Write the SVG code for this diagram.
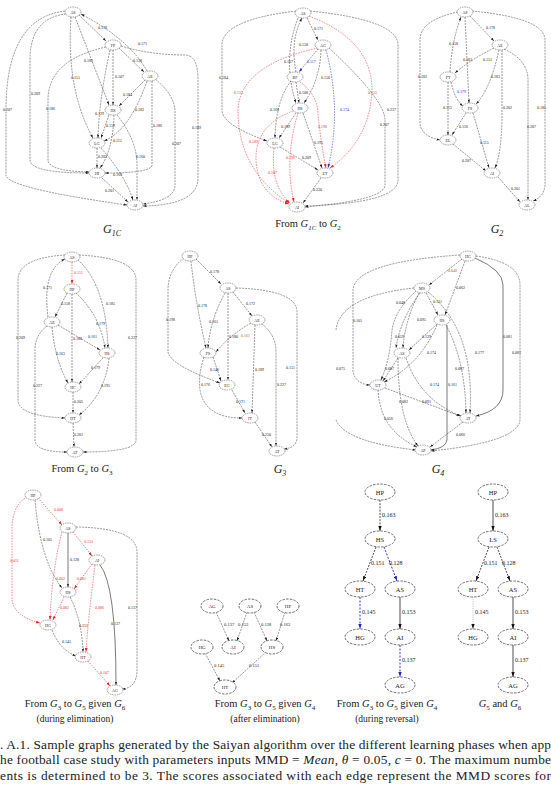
<svg xmlns="http://www.w3.org/2000/svg" width="551" height="799" viewBox="0 0 551 799">
<style>
text{font-family:"Liberation Serif","DejaVu Serif",serif;fill:#222}
.n ellipse{fill:#fff;stroke:#444;stroke-width:0.5;stroke-dasharray:1.5 0.8}
.n text{font-size:4px;text-anchor:middle;dominant-baseline:central}
.N ellipse{fill:#fff;stroke:#333;stroke-width:0.7;stroke-dasharray:2.5 1.2}
.N text{font-size:6.5px;text-anchor:middle;dominant-baseline:central}
.e{fill:none;stroke:#333;stroke-width:0.5;stroke-dasharray:2 1;marker-end:url(#a)}
.s{fill:none;stroke:#222;stroke-width:0.6;marker-end:url(#a)}
.r{fill:none;stroke:#e33;stroke-width:0.6;stroke-dasharray:1.5 1.2;marker-end:url(#ar)}
.b{fill:none;stroke:#23c;stroke-width:0.6;stroke-dasharray:1.5 1.2;marker-end:url(#ab)}
.E{fill:none;stroke:#222;stroke-width:0.8;marker-end:url(#A)}
.ED{fill:none;stroke:#222;stroke-width:0.8;stroke-dasharray:2 1.2;marker-end:url(#A)}
.EB{fill:none;stroke:#22c;stroke-width:0.9;stroke-dasharray:2 1.5;marker-end:url(#AB)}
.EG{fill:none;stroke:#999;stroke-width:0.7;stroke-dasharray:1 1.2;marker-end:url(#A)}
.l{font-size:4px}
.lr{font-size:4px;fill:#e33}
.lb{font-size:4px;fill:#23c}
.L{font-size:6px}
.t{font-size:10.5px;text-anchor:middle}
.ts{font-size:9.5px;text-anchor:middle}
.g{font-style:italic}
.cap{font-size:13.4px}
</style>
<defs>
<marker id="a" viewBox="0 0 6 4" refX="6" refY="2" markerWidth="3.5" markerHeight="2.6" orient="auto" markerUnits="userSpaceOnUse"><path d="M0,0L6,2L0,4z" fill="#222"/></marker>
<marker id="ar" viewBox="0 0 6 4" refX="6" refY="2" markerWidth="4" markerHeight="3" orient="auto" markerUnits="userSpaceOnUse"><path d="M0,0L6,2L0,4z" fill="#e22"/></marker>
<marker id="ab" viewBox="0 0 6 4" refX="6" refY="2" markerWidth="4" markerHeight="3" orient="auto" markerUnits="userSpaceOnUse"><path d="M0,0L6,2L0,4z" fill="#23c"/></marker>
<marker id="A" viewBox="0 0 6 4" refX="6" refY="2" markerWidth="5" markerHeight="4" orient="auto" markerUnits="userSpaceOnUse"><path d="M0,0L6,2L0,4z" fill="#111"/></marker>
<marker id="AB" viewBox="0 0 6 4" refX="6" refY="2" markerWidth="5" markerHeight="4" orient="auto" markerUnits="userSpaceOnUse"><path d="M0,0L6,2L0,4z" fill="#22c"/></marker>
</defs>

<!-- ============ Panel 1: G1C ============ -->
<g id="edges-p1">
<path class="e" d="M79,15L106,41"/><text class="l" x="98" y="29">0.178</text>
<path class="e" d="M147,71Q130,40 81,14"/><text class="l" x="138" y="45">0.171</text>
<path class="e" d="M75,17L109,105"/><text class="l" x="84" y="62">0.183</text>
<path class="e" d="M71,17Q66,90 93,138"/><text class="l" x="71" y="79">0.151</text>
<path class="e" d="M66,14Q30,18 30,60L30,160Q30,173 89,173"/><text class="l" x="31" y="95">0.209</text>
<path class="e" d="M65,11Q6,18 6,110L6,175Q6,188 127,205"/><text class="l" x="3" y="111">0.207</text>
<path class="e" d="M119,48L144,72"/><text class="l" x="133" y="62">0.158</text>
<path class="e" d="M113,50L113,105"/><text class="l" x="115" y="78">0.107</text>
<path class="e" d="M106,47Q48,60 48,100L48,160Q48,171 89,172"/><text class="l" x="46" y="110">0.186</text>
<path class="e" d="M110,50Q99,100 98,138"/><text class="l" x="95" y="115">0.129</text>
<path class="e" d="M121,46Q150,55 185,55Q198,55 198,80L198,178Q198,205 143,206"/><text class="l" x="192" y="129">0.189</text>
<path class="e" d="M145,80L119,106"/><text class="l" x="123" y="96">0.184</text>
<path class="e" d="M147,81Q130,130 104,141"/><text class="l" x="135" y="111">0.182</text>
<path class="e" d="M152,81L152,165Q152,173 105,173"/><text class="l" x="153" y="127">0.186</text>
<path class="e" d="M155,79Q175,95 175,112L175,185Q175,200 143,204"/><text class="l" x="172" y="145">0.207</text>
<path class="e" d="M109,115L101,138"/><text class="l" x="106" y="127">0.159</text>
<path class="e" d="M114,115Q113,150 100,168"/><text class="l" x="113" y="142">0.115</text>
<path class="e" d="M117,115Q137,140 137,165L137,200"/><text class="l" x="136" y="158">0.160</text>
<path class="e" d="M97,148L97,168"/><text class="l" x="98" y="158">0.205</text>
<path class="e" d="M101,148Q125,175 133,200"/><text class="l" x="113" y="176">0.169</text>
<path class="e" d="M102,178L128,202"/><text class="l" x="105" y="192">0.201</text>
</g>
<g id="p1-AS" class="n"><ellipse cx="73" cy="12" rx="8" ry="5"/><text x="73" y="12">AS</text></g>
<g id="p1-FP" class="n"><ellipse cx="113" cy="45" rx="8" ry="5"/><text x="113" y="45">FP</text></g>
<g id="p1-AE" class="n"><ellipse cx="150" cy="76" rx="8" ry="5"/><text x="150" y="76">AE</text></g>
<g id="p1-HS" class="n"><ellipse cx="113" cy="110" rx="8" ry="5"/><text x="113" y="110">HS</text></g>
<g id="p1-LG" class="n"><ellipse cx="97" cy="143" rx="8" ry="5"/><text x="97" y="143">LG</text></g>
<g id="p1-HI" class="n"><ellipse cx="97" cy="173" rx="8" ry="5"/><text x="97" y="173">HI</text></g>
<g id="p1-AI" class="n"><ellipse cx="135" cy="205" rx="8" ry="5"/><text x="135" y="205">AI</text></g>
<text class="t g" x="112" y="233" style="font-size:12px">G<tspan dy="3" style="font-size:8px">1C</tspan></text>

<!-- ============ Panel 2: From G1C to G2 ============ -->
<g id="edges-p2">
<path class="e" d="M307,18L318,40"/><text class="l" x="314" y="30">0.171</text>
<path class="e" d="M296,72Q290,40 302,18"/><text class="l" x="299" y="46">0.158</text>
<path class="e" d="M298,18Q282,60 296,103"/><text class="l" x="284" y="63">0.167</text>
<path class="b" d="M318,49L299,72"/><text class="lb" x="307" y="63">0.117</text>
<path class="e" d="M321,50Q320,80 304,103"/><text class="l" x="321" y="79">0.150</text>
<path class="e" d="M296,82L299,103"/><text class="l" x="299" y="94">0.108</text>
<path class="e" d="M291,81Q276,100 275,138"/><text class="l" x="270" y="111">0.168</text>
<path class="e" d="M296,113L279,138"/><text class="l" x="281" y="128">0.189</text>
<path class="e" d="M303,113L322,168"/><text class="l" x="314" y="144">0.195</text>
<path class="e" d="M280,147L318,170"/><text class="l" x="302" y="159">0.209</text>
<path class="e" d="M321,178L303,203"/><text class="l" x="313" y="191">0.230</text>
<path class="e" d="M296,11Q222,20 222,45L222,110Q222,125 267,141"/><text class="l" x="219" y="79">0.184</text>
<path class="b" d="M326,50Q342,110 328,168"/><text class="lb" x="340" y="111">0.174</text>
<path class="e" d="M329,48Q385,100 385,120L385,185Q385,200 305,207"/><text class="l" x="380" y="126">0.207</text>
<path class="e" d="M310,11Q398,20 398,45L398,180Q398,203 305,206"/><text class="l" x="387" y="111">0.237</text>
<path class="r" d="M318,48Q240,65 238,110Q238,170 289,203"/><text class="lr" x="234" y="94">0.153</text>
<path class="r" d="M309,16Q372,40 372,90Q370,140 330,168"/><text class="lr" x="368" y="94">0.155</text>
<path class="r" d="M300,82Q318,95 318,115Q322,150 326,168"/><text class="lr" x="318" y="128">0.198</text>
<path class="r" d="M293,111Q255,125 256,160Q258,195 289,204"/><text class="lr" x="249" y="143">0.189</text>
<path class="r" d="M298,113Q284,160 294,202"/><text class="lr" x="286" y="159">0.196</text>
<path class="r" d="M274,148Q270,185 290,203"/><text class="lr" x="268" y="174">0.107</text>
</g>
<g id="p2-AS" class="n"><ellipse cx="303" cy="13" rx="8" ry="5"/><text x="303" y="13">AS</text></g>
<g id="p2-AG" class="n"><ellipse cx="323" cy="45" rx="8" ry="5"/><text x="323" y="45">AG</text></g>
<g id="p2-BF" class="n"><ellipse cx="295" cy="77" rx="8" ry="5"/><text x="295" y="77">BF</text></g>
<g id="p2-HS" class="n"><ellipse cx="300" cy="108" rx="8" ry="5"/><text x="300" y="108">HS</text></g>
<g id="p2-LG" class="n"><ellipse cx="275" cy="143" rx="8" ry="5"/><text x="275" y="143">LG</text></g>
<g id="p2-ET" class="n"><ellipse cx="325" cy="173" rx="8" ry="5"/><text x="325" y="173">ET</text></g>
<g id="p2-AI" class="n"><ellipse cx="297" cy="207" rx="8" ry="5"/><text x="297" y="207">AI</text></g>
<text class="t" x="308" y="227">From <tspan class="g">G</tspan><tspan dy="2.5" style="font-size:7px" class="g">1C</tspan><tspan dy="-2.5"> to </tspan><tspan class="g">G</tspan><tspan dy="2.5" style="font-size:7px">2</tspan></text>

<!-- ============ Panel 3: G2 ============ -->
<g id="edges-p3">
<path class="e" d="M470,16L494,41"/><text class="l" x="486" y="29">0.178</text>
<path class="e" d="M494,48Q470,60 455,73"/><text class="l" x="483" y="61">0.151</text>
<path class="e" d="M450,72Q452,40 461,17"/><text class="l" x="449" y="45">0.158</text>
<path class="e" d="M465,17L469,103"/><text class="l" x="463" y="61">0.183</text>
<path class="e" d="M499,50Q490,90 476,104"/><text class="l" x="491" y="78">0.183</text>
<path class="e" d="M451,82Q455,100 463,106"/><text class="lb" x="457" y="93">0.179</text>
<path class="e" d="M448,82L448,135"/><text class="l" x="443" y="109">0.155</text>
<path class="e" d="M466,113L452,135"/><text class="l" x="459" y="128">0.156</text>
<path class="e" d="M473,113L489,168"/><text class="l" x="480" y="144">0.115</text>
<path class="e" d="M453,144L486,171"/><text class="l" x="462" y="162">0.207</text>
<path class="e" d="M502,50L502,120Q501,155 495,168"/><text class="l" x="503" y="109">0.202</text>
<path class="e" d="M504,49Q528,60 528,80L528,200"/><text class="l" x="527" y="128">0.207</text>
<path class="e" d="M472,11Q545,18 545,40L545,185Q544,197 533,201"/><text class="l" x="537" y="109">0.185</text>
<path class="e" d="M458,12Q420,20 420,40L420,122Q420,136 440,140"/><text class="l" x="418" y="78">0.182</text>
<path class="e" d="M498,177L520,202"/><text class="l" x="511" y="190">0.201</text>
</g>
<g id="p3-AS" class="n"><ellipse cx="465" cy="12" rx="8" ry="5"/><text x="465" y="12">AS</text></g>
<g id="p3-AE" class="n"><ellipse cx="500" cy="45" rx="8" ry="5"/><text x="500" y="45">AE</text></g>
<g id="p3-FT" class="n"><ellipse cx="448" cy="77" rx="8" ry="5"/><text x="448" y="77">FT</text></g>
<g id="p3-FS" class="n"><ellipse cx="470" cy="108" rx="8" ry="5"/><text x="470" y="108">FS</text></g>
<g id="p3-EL" class="n"><ellipse cx="448" cy="140" rx="8" ry="5"/><text x="448" y="140">EL</text></g>
<g id="p3-AI" class="n"><ellipse cx="492" cy="173" rx="8" ry="5"/><text x="492" y="173">AI</text></g>
<g id="p3-AL" class="n"><ellipse cx="527" cy="205" rx="8" ry="5"/><text x="527" y="205">AL</text></g>
<text class="t g" x="497" y="233" style="font-size:12px">G<tspan dy="3" style="font-size:8px">2</tspan></text>

<!-- ============ Panel 4: From G2 to G3 ============ -->
<g id="edges-p4">
<path class="r" d="M72,262L72,284"/><text class="lr" x="74" y="274">0.151</text>
<path class="e" d="M48,317Q42,270 65,259"/><text class="l" x="43" y="289">0.171</text>
<path class="e" d="M67,293L55,317"/><text class="l" x="61" y="305">0.158</text>
<path class="e" d="M78,260Q106,285 108,348"/><text class="l" x="106" y="305">0.185</text>
<path class="e" d="M76,293Q100,315 105,348"/><text class="l" x="96" y="325">0.179</text>
<path class="e" d="M72,294L72,382"/><text class="l" x="73" y="340">0.188</text>
<path class="e" d="M58,325L100,350"/><text class="l" x="88" y="338">0.161</text>
<path class="e" d="M52,327Q55,360 68,383"/><text class="l" x="56" y="355">0.163</text>
<path class="e" d="M103,358L79,384"/><text class="l" x="91" y="369">0.179</text>
<path class="e" d="M109,358Q105,395 79,415"/><text class="l" x="101" y="387">0.195</text>
<path class="e" d="M73,392L73,413"/><text class="l" x="74" y="403">0.205</text>
<path class="e" d="M73,423L74,447"/><text class="l" x="74" y="436">0.201</text>
<path class="e" d="M65,255Q18,258 18,280L18,400Q18,416 65,418"/><text class="l" x="16" y="339">0.209</text>
<path class="e" d="M47,326Q35,335 35,350L35,440Q35,452 67,452"/><text class="l" x="33" y="387">0.227</text>
<path class="e" d="M79,255Q136,258 136,280L136,440Q136,452 83,452"/><text class="l" x="128" y="339">0.237</text>
</g>
<g id="p4-AS" class="n"><ellipse cx="72" cy="257" rx="8" ry="5"/><text x="72" y="257">AS</text></g>
<g id="p4-HP" class="n"><ellipse cx="72" cy="289" rx="8" ry="5"/><text x="72" y="289">HP</text></g>
<g id="p4-AE" class="n"><ellipse cx="52" cy="322" rx="8" ry="5"/><text x="52" y="322">AE</text></g>
<g id="p4-HS" class="n"><ellipse cx="107" cy="353" rx="8" ry="5"/><text x="107" y="353">HS</text></g>
<g id="p4-HC" class="n"><ellipse cx="73" cy="387" rx="8" ry="5"/><text x="73" y="387">HC</text></g>
<g id="p4-HT" class="n"><ellipse cx="73" cy="418" rx="8" ry="5"/><text x="73" y="418">HT</text></g>
<g id="p4-AT" class="n"><ellipse cx="75" cy="452" rx="8" ry="5"/><text x="75" y="452">AT</text></g>
<text class="t" x="82" y="472">From <tspan class="g">G</tspan><tspan dy="2.5" style="font-size:7px">2</tspan><tspan dy="-2.5"> to </tspan><tspan class="g">G</tspan><tspan dy="2.5" style="font-size:7px">3</tspan></text>

<!-- ============ Panel 5: G3 ============ -->
<g id="edges-p5">
<path class="e" d="M196,259L221,284"/><text class="l" x="210" y="273">0.178</text>
<path class="e" d="M191,261Q195,300 206,348"/><text class="l" x="198" y="307">0.178</text>
<path class="e" d="M184,258Q168,270 168,290L168,352Q170,365 220,383"/><text class="l" x="166" y="321">0.198</text>
<path class="e" d="M225,293Q210,320 208,348"/><text class="l" x="209" y="323">0.161</text>
<path class="e" d="M228,293L228,380"/><text class="l" x="229" y="338">0.180</text>
<path class="e" d="M233,292L252,316"/><text class="l" x="246" y="305">0.172</text>
<path class="e" d="M251,323Q230,335 216,352"/><text class="l" x="241" y="337" style="fill:#b60">0.161</text>
<path class="e" d="M255,325L252,413"/><text class="l" x="255" y="371">0.189</text>
<path class="e" d="M213,357L221,381"/><text class="l" x="210" y="371">0.146</text>
<path class="e" d="M204,357Q198,375 200,390Q205,418 242,418"/><text class="l" x="201" y="386">0.176</text>
<path class="e" d="M232,390L245,413"/><text class="l" x="236" y="403">0.171</text>
<path class="e" d="M255,422L272,447"/><text class="l" x="262" y="436">0.250</text>
<path class="e" d="M236,288Q297,290 297,312L297,438Q296,448 284,449"/><text class="l" x="286" y="369">0.151</text>
<path class="e" d="M262,324Q276,335 276,352L276,446"/><text class="l" x="277" y="386">0.227</text>
</g>
<g id="p5-HP" class="n"><ellipse cx="190" cy="256" rx="8" ry="5"/><text x="190" y="256">HP</text></g>
<g id="p5-AS" class="n"><ellipse cx="228" cy="288" rx="8" ry="5"/><text x="228" y="288">AS</text></g>
<g id="p5-AE" class="n"><ellipse cx="257" cy="320" rx="8" ry="5"/><text x="257" y="320">AE</text></g>
<g id="p5-FS" class="n"><ellipse cx="208" cy="353" rx="8" ry="5"/><text x="208" y="353">FS</text></g>
<g id="p5-EG" class="n"><ellipse cx="227" cy="385" rx="8" ry="5"/><text x="227" y="385">EG</text></g>
<g id="p5-IT" class="n"><ellipse cx="250" cy="418" rx="8" ry="5"/><text x="250" y="418">IT</text></g>
<g id="p5-AT" class="n"><ellipse cx="277" cy="451" rx="8" ry="5"/><text x="277" y="451">AT</text></g>
<text class="t g" x="280" y="473" style="font-size:12px">G<tspan dy="3" style="font-size:8px">3</tspan></text>

<!-- ============ Panel 6: G4 ============ -->
<g id="edges-p6">
<path class="e" d="M462,259L429,285"/><text class="l" x="448" y="272" style="fill:#b60">0.048</text>
<path class="e" d="M465,261L445,315"/><text class="l" x="456" y="289">0.062</text>
<path class="e" d="M426,293L438,315"/><text class="l" x="433" y="303">0.121</text>
<path class="e" d="M419,293Q405,320 403,348"/><text class="l" x="417" y="321">0.095</text>
<path class="e" d="M416,291Q395,310 392,330Q390,360 381,380"/><text class="l" x="396" y="304">0.048</text>
<path class="e" d="M437,324L409,350"/><text class="l" x="422" y="338">0.129</text>
<path class="e" d="M437,325Q420,365 384,382"/><text class="l" x="427" y="354">0.174</text>
<path class="e" d="M398,358L383,381"/><text class="l" x="385" y="370">0.087</text>
<path class="e" d="M420,293Q400,320 396,348"/><text class="l" x="395" y="338">0.059</text>
<path class="e" d="M460,255Q355,262 353,290L353,372Q356,384 370,385"/><text class="l" x="353" y="322">0.105</text>
<path class="e" d="M414,288Q340,296 336,330" style="marker-end:none"/>
<path class="e" d="M336,420Q345,442 416,450"/><text class="l" x="336" y="370">0.075</text>
<path class="e" d="M446,325Q465,360 466,413"/><text class="l" x="455" y="370">0.087</text>
<path class="e" d="M428,292Q475,330 470,413"/><text class="l" x="475" y="354">0.177</text>
<path class="s" d="M447,325L447,440Q446,448 431,450"/><text class="l" x="448" y="386">0.161</text>
<path class="e" d="M406,358Q420,400 461,416"/><text class="l" x="430" y="386">0.174</text>
<path class="e" d="M385,388L460,416"/><text class="l" x="422" y="403">0.091</text>
<path class="e" d="M378,390Q380,430 417,447"/><text class="l" x="384" y="420">0.056</text>
<path class="e" d="M398,358Q398,420 418,446"/><text class="l" x="399" y="403">0.082</text>
<path class="e" d="M463,422L430,447"/><text class="l" x="456" y="436">0.066</text>
<path class="s" d="M475,258Q503,270 503,285L503,390Q503,410 476,416"/><text class="l" x="503" y="338">0.081</text>
<path class="e" d="M476,256Q520,262 520,285L520,420Q518,442 431,451"/><text class="l" x="512" y="354">0.081</text>
</g>
<g id="p6-HG" class="n"><ellipse cx="468" cy="256" rx="8" ry="5"/><text x="468" y="256">HG</text></g>
<g id="p6-MS" class="n"><ellipse cx="422" cy="288" rx="8" ry="5"/><text x="422" y="288">MS</text></g>
<g id="p6-HS" class="n"><ellipse cx="442" cy="320" rx="8" ry="5"/><text x="442" y="320">HS</text></g>
<g id="p6-AS" class="n"><ellipse cx="402" cy="353" rx="8" ry="5"/><text x="402" y="353">AS</text></g>
<g id="p6-UT" class="n"><ellipse cx="378" cy="385" rx="8" ry="5"/><text x="378" y="385">UT</text></g>
<g id="p6-AT" class="n"><ellipse cx="468" cy="418" rx="8" ry="5"/><text x="468" y="418">AT</text></g>
<g id="p6-AP" class="n"><ellipse cx="423" cy="450" rx="8" ry="5"/><text x="423" y="450">AP</text></g>
<text class="t g" x="438" y="473" style="font-size:12px">G<tspan dy="3" style="font-size:8px">4</tspan></text>

<!-- ============ Panel 7: during elimination ============ -->
<g id="edges-p7">
<path class="r" d="M38,498L62,525"/><text class="lr" x="54" y="511">0.008</text>
<path class="e" d="M35,500Q40,560 62,588"/><text class="l" x="43" y="541">0.105</text>
<path class="r" d="M27,497Q12,505 12,530L12,600Q14,616 40,623"/><text class="lr" x="10" y="562">0.011</text>
<path class="s" d="M68,533L68,587"/><text class="l" x="70" y="561">0.128</text>
<path class="r" d="M73,532L92,556"/><text class="lr" x="84" y="543">0.153</text>
<path class="r" d="M62,532Q52,570 50,620"/><text class="lr" x="56" y="580">0.002</text>
<path class="r" d="M92,564L74,589"/><text class="lr" x="77" y="580">0.001</text>
<path class="s" d="M100,565Q116,585 116,685"/><text class="l" x="111" y="625">0.137</text>
<path class="e" d="M76,527Q137,528 137,552L137,672Q136,688 122,689"/><text class="l" x="128" y="609">0.137</text>
<path class="r" d="M95,565Q88,620 86,652"/><text class="lr" x="95" y="609">0.086</text>
<path class="r" d="M64,597L53,620"/><text class="lr" x="60" y="609">0.082</text>
<path class="e" d="M70,597Q82,620 83,652"/><text class="l" x="79" y="627">0.151</text>
<path class="e" d="M52,630Q60,650 76,656"/><text class="l" x="62" y="643">0.145</text>
<path class="r" d="M88,661L110,686"/><text class="lr" x="100" y="674">0.107</text>
</g>
<g id="p7-HP" class="n"><ellipse cx="33" cy="495" rx="8" ry="5"/><text x="33" y="495">HP</text></g>
<g id="p7-AS" class="n"><ellipse cx="68" cy="528" rx="8" ry="5"/><text x="68" y="528">AS</text></g>
<g id="p7-AI" class="n"><ellipse cx="97" cy="560" rx="8" ry="5"/><text x="97" y="560">AI</text></g>
<g id="p7-HS" class="n"><ellipse cx="68" cy="592" rx="8" ry="5"/><text x="68" y="592">HS</text></g>
<g id="p7-HG" class="n"><ellipse cx="48" cy="625" rx="8" ry="5"/><text x="48" y="625">HG</text></g>
<g id="p7-HT" class="n"><ellipse cx="83" cy="657" rx="8" ry="5"/><text x="83" y="657">HT</text></g>
<g id="p7-AG" class="n"><ellipse cx="115" cy="690" rx="8" ry="5"/><text x="115" y="690">AG</text></g>
<text class="t" x="75" y="707">From <tspan class="g">G</tspan><tspan dy="2.5" style="font-size:7px">3</tspan><tspan dy="-2.5"> to </tspan><tspan class="g">G</tspan><tspan dy="2.5" style="font-size:7px">5</tspan><tspan dy="-2.5"> given </tspan><tspan class="g">G</tspan><tspan dy="2.5" style="font-size:7px">6</tspan></text>
<text class="ts" x="75" y="722">(during elimination)</text>

<!-- ============ Panel 8: after elimination ============ -->
<g id="edges-p8">
<path class="e" d="M216,612L229,641"/><text class="L" x="224" y="626" style="font-size:4.5px">0.137</text>
<path class="e" d="M247,612L237,641"/><text class="L" x="238" y="626" style="font-size:4.5px">0.153</text>
<path class="e" d="M254,612L267,641"/><text class="L" x="261" y="626" style="font-size:4.5px">0.128</text>
<path class="e" d="M285,612L276,641"/><text class="L" x="280" y="626" style="font-size:4.5px">0.163</text>
<path class="e" d="M205,653L220,681"/><text class="L" x="214" y="667" style="font-size:4.5px">0.145</text>
<path class="e" d="M266,652L232,683"/><text class="L" x="249" y="667" style="font-size:4.5px">0.151</text>
</g>
<g id="p8-AG" class="N"><ellipse cx="212" cy="606" rx="11" ry="7"/><text x="212" y="606" style="font-size:5px">AG</text></g>
<g id="p8-AS" class="N"><ellipse cx="250" cy="606" rx="11" ry="7"/><text x="250" y="606" style="font-size:5px">AS</text></g>
<g id="p8-HP" class="N"><ellipse cx="288" cy="606" rx="11" ry="7"/><text x="288" y="606" style="font-size:5px">HP</text></g>
<g id="p8-HG" class="N"><ellipse cx="202" cy="647" rx="11" ry="7"/><text x="202" y="647" style="font-size:5px">HG</text></g>
<g id="p8-AI" class="N"><ellipse cx="233" cy="647" rx="11" ry="7"/><text x="233" y="647" style="font-size:5px">AI</text></g>
<g id="p8-HS" class="N"><ellipse cx="272" cy="647" rx="11" ry="7"/><text x="272" y="647" style="font-size:5px">HS</text></g>
<g id="p8-HT" class="N"><ellipse cx="225" cy="687" rx="11" ry="7"/><text x="225" y="687" style="font-size:5px">HT</text></g>
<text class="t" x="265" y="707">From <tspan class="g">G</tspan><tspan dy="2.5" style="font-size:7px">3</tspan><tspan dy="-2.5"> to </tspan><tspan class="g">G</tspan><tspan dy="2.5" style="font-size:7px">5</tspan><tspan dy="-2.5"> given </tspan><tspan class="g">G</tspan><tspan dy="2.5" style="font-size:7px">4</tspan></text>
<text class="ts" x="265" y="722">(after elimination)</text>

<!-- ============ Panel 9: during reversal ============ -->
<g id="edges-p9">
<path class="ED" d="M380,500L380,531"/><text class="L" x="382" y="517">0.163</text>
<path class="ED" d="M376,547L363,581"/><text class="L" x="371" y="565">0.151</text>
<path class="EB" d="M384,547L397,581"/><text class="L" x="389" y="565">0.128</text>
<path class="EB" d="M360,597L360,629"/><text class="L" x="362" y="614">0.145</text>
<path class="E" d="M400,597L400,629"/><text class="L" x="402" y="614">0.153</text>
<path class="EB" d="M400,645L400,677"/><text class="L" x="402" y="662">0.137</text>
</g>
<g id="p9-HP" class="N"><ellipse cx="380" cy="492" rx="15" ry="8"/><text x="380" y="492">HP</text></g>
<g id="p9-HS" class="N"><ellipse cx="380" cy="539" rx="15" ry="8"/><text x="380" y="539">HS</text></g>
<g id="p9-HT" class="N"><ellipse cx="360" cy="589" rx="15" ry="8"/><text x="360" y="589">HT</text></g>
<g id="p9-AS" class="N"><ellipse cx="400" cy="589" rx="15" ry="8"/><text x="400" y="589">AS</text></g>
<g id="p9-HG" class="N"><ellipse cx="360" cy="637" rx="15" ry="8"/><text x="360" y="637">HG</text></g>
<g id="p9-AI" class="N"><ellipse cx="400" cy="637" rx="15" ry="8"/><text x="400" y="637">AI</text></g>
<g id="p9-AG" class="N"><ellipse cx="400" cy="685" rx="15" ry="8"/><text x="400" y="685">AG</text></g>
<text class="t" x="387" y="707">From <tspan class="g">G</tspan><tspan dy="2.5" style="font-size:7px">3</tspan><tspan dy="-2.5"> to </tspan><tspan class="g">G</tspan><tspan dy="2.5" style="font-size:7px">5</tspan><tspan dy="-2.5"> given </tspan><tspan class="g">G</tspan><tspan dy="2.5" style="font-size:7px">4</tspan></text>
<text class="ts" x="387" y="722">(during reversal)</text>

<!-- ============ Panel 10: G5 and G6 ============ -->
<g id="edges-p10">
<path class="E" d="M493,500L493,531"/><text class="L" x="495" y="517">0.163</text>
<path class="ED" d="M489,547L476,581"/><text class="L" x="484" y="565">0.151</text>
<path class="ED" d="M497,547L510,581"/><text class="L" x="502" y="565">0.128</text>
<path class="EG" d="M473,597L473,629"/><text class="L" x="475" y="614">0.145</text>
<path class="E" d="M513,597L513,629"/><text class="L" x="515" y="614">0.153</text>
<path class="E" d="M513,645L513,677"/><text class="L" x="515" y="662">0.137</text>
</g>
<g id="p10-HP" class="N"><ellipse cx="493" cy="492" rx="15" ry="8"/><text x="493" y="492">HP</text></g>
<g id="p10-LS" class="N"><ellipse cx="493" cy="539" rx="15" ry="8"/><text x="493" y="539">LS</text></g>
<g id="p10-HT" class="N"><ellipse cx="473" cy="589" rx="15" ry="8"/><text x="473" y="589">HT</text></g>
<g id="p10-AS" class="N"><ellipse cx="513" cy="589" rx="15" ry="8"/><text x="513" y="589">AS</text></g>
<g id="p10-HG" class="N"><ellipse cx="473" cy="637" rx="15" ry="8"/><text x="473" y="637">HG</text></g>
<g id="p10-AI" class="N"><ellipse cx="513" cy="637" rx="15" ry="8"/><text x="513" y="637">AI</text></g>
<g id="p10-AG" class="N"><ellipse cx="513" cy="685" rx="15" ry="8"/><text x="513" y="685">AG</text></g>
<text class="t" x="500" y="707"><tspan class="g">G</tspan><tspan dy="2.5" style="font-size:7px">5</tspan><tspan dy="-2.5"> and </tspan><tspan class="g">G</tspan><tspan dy="2.5" style="font-size:7px">6</tspan></text>

<!-- ============ Caption ============ -->
<text class="cap" x="0" y="749" textLength="551" lengthAdjust="spacing">. A.1. Sample graphs generated by the Saiyan algorithm over the different learning phases when app</text>
<text class="cap" x="0" y="764" textLength="551" lengthAdjust="spacing">he football case study with parameters inputs MMD = <tspan class="g">Mean</tspan>, <tspan class="g">θ</tspan> = 0.05, <tspan class="g">c</tspan> = 0. The maximum numbe</text>
<text class="cap" x="0" y="780" textLength="551" lengthAdjust="spacing">ents is determined to be 3. The scores associated with each edge represent the MMD scores for</text>
</svg>
